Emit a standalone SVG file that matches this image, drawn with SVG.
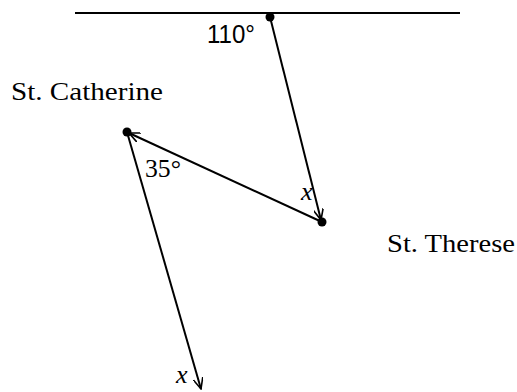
<svg xmlns="http://www.w3.org/2000/svg" width="517" height="392" viewBox="0 0 517 392">
<style>
.ln{stroke:#000;stroke-width:2;fill:none}
.serif{font-family:"Liberation Serif","DejaVu Serif",serif;font-size:25px;fill:#000}
.sans{font-family:"Liberation Sans","DejaVu Sans",sans-serif;font-size:25px;fill:#000}
.it{font-family:"Liberation Serif",serif;font-style:italic;font-size:26px;fill:#000}
</style>
<defs>
<marker id="ah" viewBox="0 0 12 10" refX="11" refY="5" markerWidth="12" markerHeight="10" markerUnits="userSpaceOnUse" orient="auto">
<path d="M0,0 L11,5 L0,10" fill="none" stroke="#000" stroke-width="1.6"/>
</marker>
</defs>
<g id="connectors">
<line class="ln" x1="75" y1="13" x2="460" y2="13"/>
<line class="ln" x1="270" y1="17" x2="321" y2="220" marker-end="url(#ah)"/>
<line class="ln" x1="322" y1="222" x2="129" y2="133" marker-end="url(#ah)"/>
<line class="ln" x1="127" y1="132" x2="201" y2="389" marker-end="url(#ah)"/>
</g>
<g id="top"><circle cx="270" cy="17" r="4.5"/><text class="sans" x="207" y="43" textLength="48" lengthAdjust="spacingAndGlyphs">110°</text></g>
<g id="st-catherine"><circle cx="127" cy="132" r="4.5"/><text class="serif" x="11" y="100" textLength="152" lengthAdjust="spacingAndGlyphs">St. Catherine</text><text class="serif" x="145" y="177" font-size="27" textLength="36" lengthAdjust="spacingAndGlyphs">35°</text></g>
<g id="st-therese"><circle cx="322" cy="222" r="4.5"/><text class="serif" x="387" y="252" textLength="128" lengthAdjust="spacingAndGlyphs">St. Therese</text><text class="it" x="301" y="200">x</text></g>
<g id="bottom"><text class="it" x="176" y="383">x</text></g>
</svg>
